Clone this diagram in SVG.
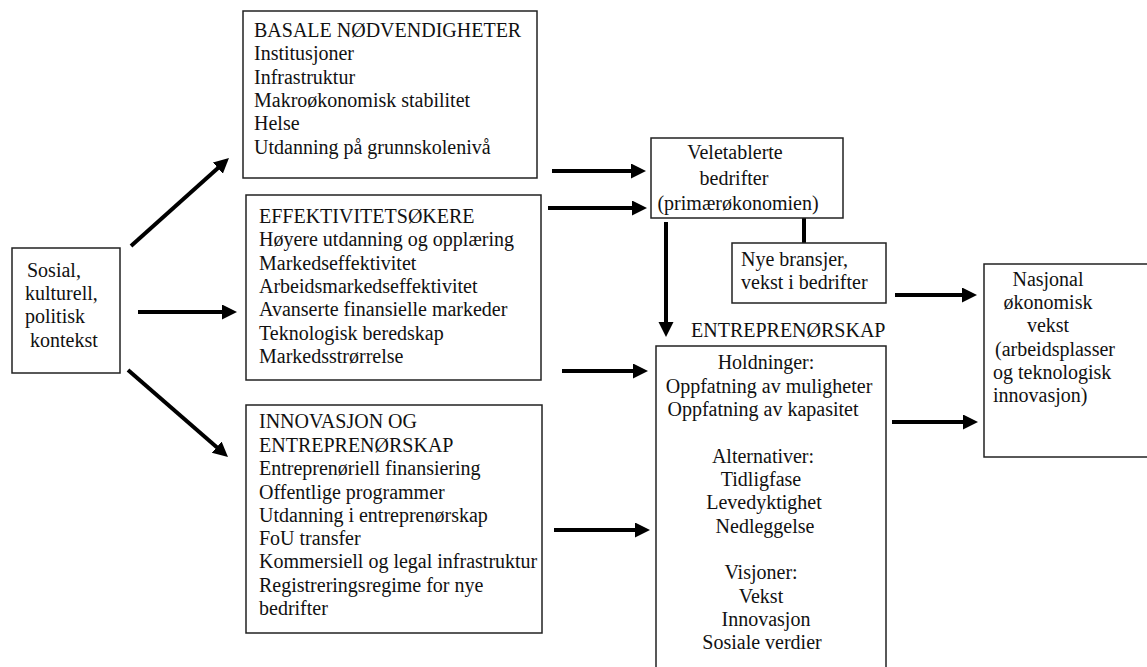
<svg xmlns="http://www.w3.org/2000/svg" width="1147" height="667" viewBox="0 0 1147 667">
  <style>
    .box { fill: #fff; stroke: #222; stroke-width: 1.5; }
    .t { font-family: 'Liberation Serif', 'Times New Roman', Times, 'DejaVu Serif', serif; font-size: 20px; fill: #111; }
    .c { text-anchor: middle; }
    .arrow { stroke: #000; stroke-width: 4; fill: none; marker-end: url(#head); }
    .link { stroke: #000; stroke-width: 4; fill: none; }
  </style>
  <defs>
    <marker id="head" markerUnits="userSpaceOnUse" markerWidth="17" markerHeight="16" refX="4" refY="7.5" orient="auto">
      <path d="M0,0 L15,7.5 L0,15 Z" fill="#000"/>
    </marker>
  </defs>
  <rect width="1147" height="667" fill="#fff"/>

  <!-- connectors -->
  <g id="connectors">
    <line class="arrow" x1="131" y1="246" x2="220.8" y2="165.4"/>
    <line class="arrow" x1="138" y1="312" x2="226" y2="312"/>
    <line class="arrow" x1="128" y1="370" x2="219.7" y2="449.8"/>
    <line class="arrow" x1="552" y1="171" x2="635" y2="171"/>
    <line class="arrow" x1="548" y1="208" x2="636" y2="208"/>
    <line class="arrow" x1="562" y1="371" x2="637" y2="371"/>
    <line class="arrow" x1="554" y1="530" x2="639" y2="530"/>
    <line class="arrow" x1="666" y1="222" x2="666" y2="326"/>
    <line class="arrow" x1="895" y1="295" x2="966" y2="295"/>
    <line class="arrow" x1="892" y1="422" x2="967" y2="422"/>
    <line class="link" x1="804" y1="218" x2="804" y2="243"/>
  </g>

  <!-- context -->
  <g id="kontekst">
    <rect class="box" x="12" y="248" width="108" height="125"/>
    <text class="t" x="27" y="277">Sosial,</text>
    <text class="t" x="25" y="300">kulturell,</text>
    <text class="t" x="25" y="323">politisk</text>
    <text class="t" x="30" y="347">kontekst</text>
  </g>

  <!-- basic requirements -->
  <g id="basale">
    <rect class="box" x="243" y="11" width="294" height="167"/>
    <text class="t" x="254" y="37">BASALE NØDVENDIGHETER</text>
    <text class="t" x="254" y="60.3">Institusjoner</text>
    <text class="t" x="254" y="83.6">Infrastruktur</text>
    <text class="t" x="254" y="107">Makroøkonomisk stabilitet</text>
    <text class="t" x="254" y="130.2">Helse</text>
    <text class="t" x="254" y="153.5">Utdanning på grunnskolenivå</text>
  </g>

  <!-- efficiency enhancers -->
  <g id="effektivitet">
    <rect class="box" x="246" y="195" width="295" height="185"/>
    <text class="t" x="259" y="223">EFFEKTIVITETSØKERE</text>
    <text class="t" x="259" y="246.3">Høyere utdanning og opplæring</text>
    <text class="t" x="259" y="269.6">Markedseffektivitet</text>
    <text class="t" x="259" y="292.9">Arbeidsmarkedseffektivitet</text>
    <text class="t" x="259" y="316.2">Avanserte finansielle markeder</text>
    <text class="t" x="259" y="339.5">Teknologisk beredskap</text>
    <text class="t" x="259" y="362.8">Markedsstrørrelse</text>
  </g>

  <!-- innovation and entrepreneurship -->
  <g id="innovasjon">
    <rect class="box" x="246" y="405" width="296" height="228"/>
    <text class="t" x="259" y="428">INNOVASJON OG</text>
    <text class="t" x="259" y="451.5">ENTREPRENØRSKAP</text>
    <text class="t" x="259" y="475">Entreprenøriell finansiering</text>
    <text class="t" x="259" y="498.5">Offentlige programmer</text>
    <text class="t" x="259" y="521.5">Utdanning i entreprenørskap</text>
    <text class="t" x="259" y="545">FoU transfer</text>
    <text class="t" x="259" y="568">Kommersiell og legal infrastruktur</text>
    <text class="t" x="259" y="591.5">Registreringsregime for nye</text>
    <text class="t" x="259" y="615">bedrifter</text>
  </g>

  <!-- established firms -->
  <g id="veletablerte">
    <rect class="box" x="651" y="138" width="192" height="80"/>
    <text class="t c" x="735" y="158.5">Veletablerte</text>
    <text class="t c" x="734" y="184.5">bedrifter</text>
    <text class="t c" x="738" y="209.5">(primærøkonomien)</text>
  </g>

  <!-- new sectors -->
  <g id="nye-bransjer">
    <rect class="box" x="732" y="243" width="154" height="60"/>
    <text class="t" x="741" y="266">Nye bransjer,</text>
    <text class="t" x="741" y="289">vekst i bedrifter</text>
  </g>

  <!-- entrepreneurship -->
  <g id="entreprenorskap">
    <text class="t" x="691" y="337">ENTREPRENØRSKAP</text>
    <rect class="box" x="656" y="346" width="230" height="340"/>
    <text class="t c" x="766" y="369">Holdninger:</text>
    <text class="t c" x="769" y="393">Oppfatning av muligheter</text>
    <text class="t c" x="763" y="416">Oppfatning av kapasitet</text>
    <text class="t c" x="763" y="463">Alternativer:</text>
    <text class="t c" x="761" y="486">Tidligfase</text>
    <text class="t c" x="764" y="509">Levedyktighet</text>
    <text class="t c" x="765" y="533">Nedleggelse</text>
    <text class="t c" x="761" y="579">Visjoner:</text>
    <text class="t c" x="761" y="603">Vekst</text>
    <text class="t c" x="766" y="626">Innovasjon</text>
    <text class="t c" x="762" y="649">Sosiale verdier</text>
  </g>

  <!-- national growth -->
  <g id="nasjonal">
    <rect class="box" x="984" y="264" width="180" height="193"/>
    <text class="t c" x="1048" y="286">Nasjonal</text>
    <text class="t c" x="1048" y="309">økonomisk</text>
    <text class="t c" x="1048" y="332">vekst</text>
    <text class="t" x="995" y="356">(arbeidsplasser</text>
    <text class="t" x="993" y="379">og teknologisk</text>
    <text class="t" x="993" y="402">innovasjon)</text>
  </g>
</svg>
